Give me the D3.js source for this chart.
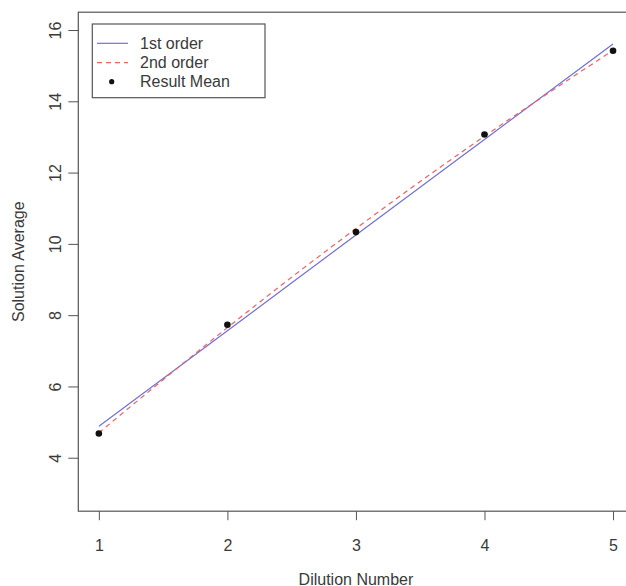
<!DOCTYPE html>
<html>
<head>
<meta charset="utf-8">
<script src="https://cdn.jsdelivr.net/npm/d3@7"></script>
<style>
  body { margin: 0; background: #fff; }
  text { font-family: "Liberation Sans", Arial, sans-serif; fill: #3a3a3a; }
</style>
</head>
<body>
<div id="chart"></div>
<script>
// values
const dilution = [1, 2, 3, 4, 5];
const resultMean = [4.68, 7.73, 10.33, 13.07, 15.42];
const firstOrder = [4.88, 7.56, 10.25, 12.93, 15.61];
const secondOrder = [4.70, 7.65, 10.43, 13.02, 15.43];
const xTicks = [1, 2, 3, 4, 5];
const yTicks = [4, 6, 8, 10, 12, 14, 16];
const legendLabels = ["1st order", "2nd order", "Result Mean"];

const W = 626, H = 586;
const box = { left: 78.3, right: 633.6, top: 12.2, bottom: 511.2 };
const fs = 16;

const svg = d3.select("#chart").append("svg")
  .attr("width", W)
  .attr("height", H);

const x = d3.scaleLinear().domain([0.84, 5.16]).range([box.left, box.right]);
const y = d3.scaleLinear().domain([2.5, 16.5]).range([box.bottom, box.top]);

// x axis
const xAxis = svg.append("g")
  .attr("transform", "translate(0," + box.bottom + ")")
  .call(d3.axisBottom(x).tickValues(xTicks).tickSize(9).tickPadding(19).tickFormat(d3.format("d")));
xAxis.select(".domain").remove();
xAxis.selectAll("line").attr("stroke", "#555");
xAxis.selectAll("text").attr("font-size", fs).attr("font-family", null).attr("fill", "#3a3a3a");

// y axis, labels turned like R does
const yAxis = svg.append("g")
  .attr("transform", "translate(" + box.left + ",0)")
  .call(d3.axisLeft(y).tickValues(yTicks).tickSize(10).tickFormat(d3.format("d")));
yAxis.select(".domain").remove();
yAxis.selectAll("line").attr("stroke", "#555");
yAxis.selectAll("text")
  .attr("font-size", fs).attr("font-family", null).attr("fill", "#3a3a3a")
  .attr("x", null).attr("dy", null)
  .attr("text-anchor", "middle")
  .attr("transform", "translate(-23,0) rotate(-90)")
  .attr("dominant-baseline", "central");

// frame
svg.append("rect")
  .attr("x", box.left).attr("y", box.top)
  .attr("width", box.right - box.left).attr("height", box.bottom - box.top)
  .attr("fill", "none").attr("stroke", "#555").attr("stroke-width", 1.2);

// axis titles
svg.append("text")
  .attr("x", (box.left + box.right) / 2).attr("y", 579)
  .attr("text-anchor", "middle").attr("dominant-baseline", "central")
  .attr("font-size", fs)
  .text("Dilution Number");

svg.append("text")
  .attr("transform", "translate(18," + (box.top + box.bottom) / 2 + ") rotate(-90)")
  .attr("text-anchor", "middle").attr("dominant-baseline", "central")
  .attr("font-size", fs)
  .text("Solution Average");

// fitted lines
const line = d3.line()
  .x(d => x(d[0]))
  .y(d => y(d[1]))
  .curve(d3.curveNatural);

svg.append("path")
  .datum(d3.zip(dilution, firstOrder))
  .attr("d", line)
  .attr("fill", "none")
  .attr("stroke", "#7070d8")
  .attr("stroke-width", 1.2);

svg.append("path")
  .datum(d3.zip(dilution, secondOrder))
  .attr("d", line)
  .attr("fill", "none")
  .attr("stroke", "#f26060")
  .attr("stroke-width", 1.2)
  .attr("stroke-dasharray", "5,4");

// means
svg.selectAll(".pt")
  .data(d3.zip(dilution, resultMean))
  .enter().append("circle")
  .attr("class", "pt")
  .attr("cx", d => x(d[0]))
  .attr("cy", d => y(d[1]))
  .attr("r", 3.3)
  .attr("fill", "#111");

// legend
const lg = svg.append("g");
lg.append("rect")
  .attr("x", 92.3).attr("y", 24)
  .attr("width", 172.7).attr("height", 73.7)
  .attr("fill", "#fff").attr("stroke", "#555").attr("stroke-width", 1.2);

const rowY = [43.3, 62.7, 81.7];
lg.append("line")
  .attr("x1", 97).attr("x2", 128).attr("y1", rowY[0]).attr("y2", rowY[0])
  .attr("stroke", "#7070d8").attr("stroke-width", 1.2);
lg.append("line")
  .attr("x1", 97).attr("x2", 128).attr("y1", rowY[1]).attr("y2", rowY[1])
  .attr("stroke", "#f26060").attr("stroke-width", 1.2).attr("stroke-dasharray", "5,4");
lg.append("circle")
  .attr("cx", 111.7).attr("cy", rowY[2]).attr("r", 2.6).attr("fill", "#111");

lg.selectAll(".lt")
  .data(legendLabels)
  .enter().append("text")
  .attr("class", "lt")
  .attr("x", 140)
  .attr("y", (d, i) => rowY[i])
  .attr("dominant-baseline", "central")
  .attr("font-size", fs)
  .text(d => d);
</script>
</body>
</html>
